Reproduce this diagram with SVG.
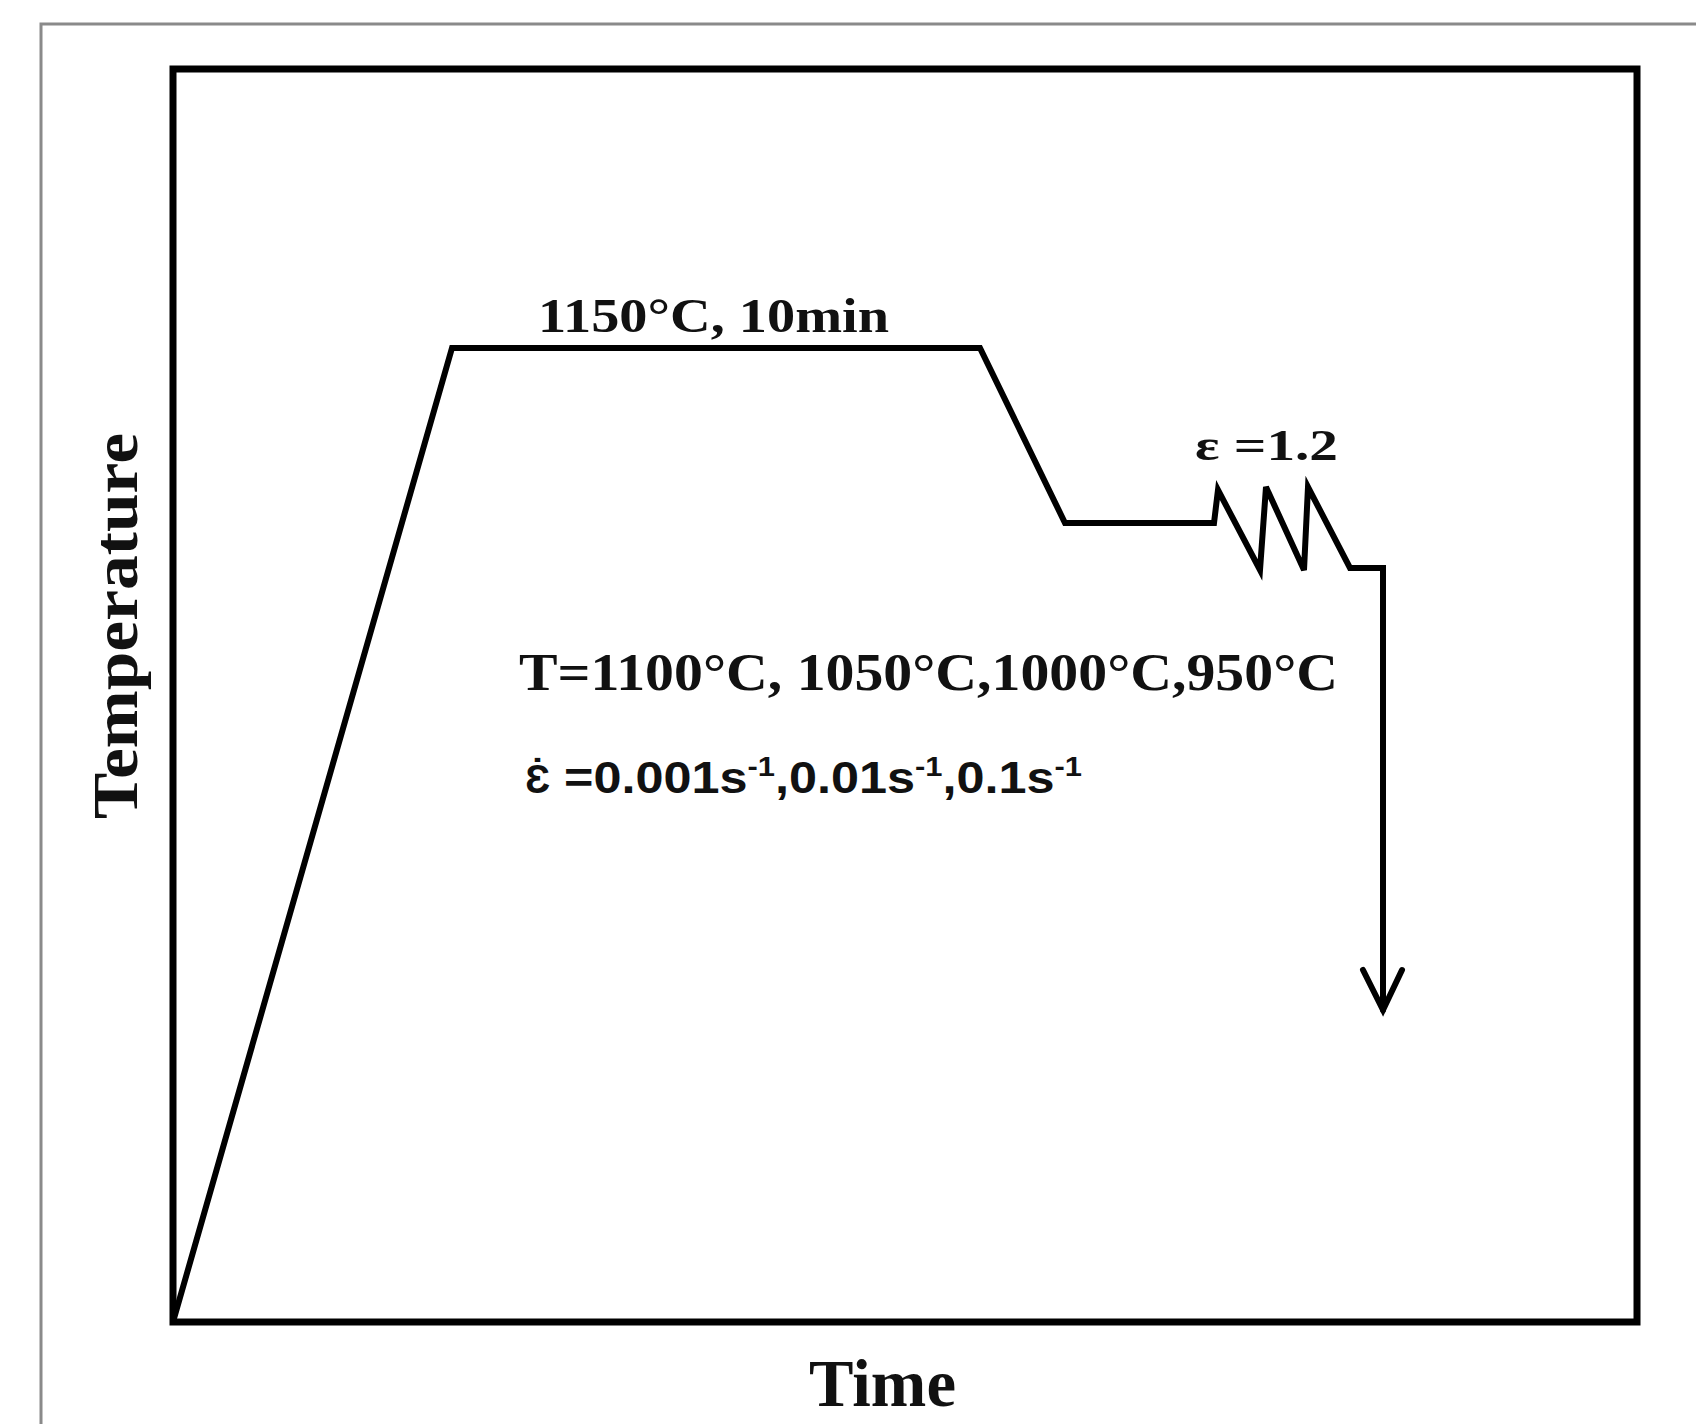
<svg xmlns="http://www.w3.org/2000/svg" width="1696" height="1424" viewBox="0 0 1696 1424">
<style>
.serif{font-family:"Liberation Serif","Times New Roman",serif;font-weight:bold;fill:#111}
.sans{font-family:"Liberation Sans",Arial,sans-serif;font-weight:bold;fill:#111}
.curve{fill:none;stroke:#000;stroke-width:6;stroke-linejoin:miter;stroke-linecap:round}
</style>
<rect width="1696" height="1424" fill="#fff"/>
<g id="outer-frame">
<path d="M41,1424 V24 H1696" fill="none" stroke="#8a8a8a" stroke-width="3"/>
</g>
<g id="plot-frame">
<rect x="173" y="69" width="1464" height="1253" fill="none" stroke="#000" stroke-width="7"/>
</g>
<g id="connectors">
<path class="curve" d="M173,1322 L452,348 L980,348 L1065,523 L1214,523 L1218,490 L1260,570 L1266,487 L1304,570 L1308,487 L1350,568 L1383,568 L1383,1010"/>
<path class="curve" d="M1363,970 L1383,1010 L1402,970"/>
</g>
<g id="label-hold">
<text class="serif" x="538" y="332" font-size="48" textLength="351" lengthAdjust="spacingAndGlyphs">1150°C, 10min</text>
</g>
<g id="label-strain">
<text class="serif" x="1195" y="460" font-size="44" textLength="143" lengthAdjust="spacingAndGlyphs">ε =1.2</text>
</g>
<g id="label-temps">
<text class="serif" x="519" y="690" font-size="52" textLength="819" lengthAdjust="spacingAndGlyphs">T=1100°C, 1050°C,1000°C,950°C</text>
</g>
<g id="label-rates">
<text class="sans" x="525" y="793" font-size="40">Ɛ̇</text>
<text class="sans" x="564" y="793" font-size="44" textLength="518" lengthAdjust="spacingAndGlyphs">=0.001s<tspan font-size="27" dy="-17">-1</tspan><tspan dy="17">,0.01s</tspan><tspan font-size="27" dy="-17">-1</tspan><tspan dy="17">,0.1s</tspan><tspan font-size="27" dy="-17">-1</tspan></text>
</g>
<g id="axis-x">
<text class="serif" x="809" y="1406" font-size="68" textLength="147" lengthAdjust="spacingAndGlyphs">Time</text>
</g>
<g id="axis-y">
<text class="serif" transform="translate(137,819) rotate(-90)" x="0" y="0" font-size="64" textLength="386" lengthAdjust="spacingAndGlyphs">Temperature</text>
</g>
</svg>
